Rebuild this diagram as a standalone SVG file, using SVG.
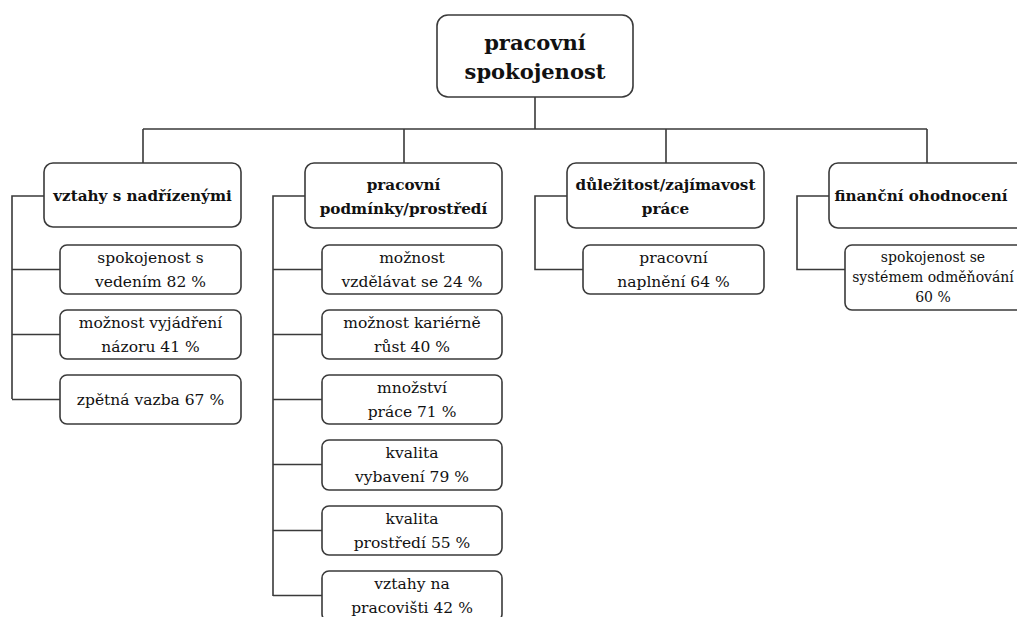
<svg xmlns="http://www.w3.org/2000/svg" width="1017" height="617" viewBox="0 0 1017 617">
  <style>
    .box { fill: #ffffff; stroke: #3a3a3a; stroke-width: 1.6; }
    .line { fill: none; stroke: #3a3a3a; stroke-width: 1.6; }
    text { font-family: 'DejaVu Serif', 'Liberation Serif', serif; fill: #111; text-anchor: middle; }
    .root { font-weight: bold; font-size: 21px; }
    .head { font-weight: bold; font-size: 15.2px; }
    .item { font-size: 15.5px; }
    .small { font-size: 14px; }
  </style>

  <!-- connectors -->
  <g id="connectors">
    <path class="line" d="M535 97 V129 M143 129 H927 M143 129 V163 M404 129 V163 M666 129 V163 M927 129 V163"/>
    <path class="line" d="M44 196 H12 V399 M12 269.5 H60 M12 334.5 H60 M12 399.5 H60"/>
    <path class="line" d="M305 196 H273 V596 M273 269.5 H322 M273 334.5 H322 M273 399.5 H322 M273 464.5 H322 M273 530.5 H322 M273 595.5 H322"/>
    <path class="line" d="M567 196 H535 V269.5 H583"/>
    <path class="line" d="M829 196 H797 V269.5 H845"/>
  </g>

  <!-- root -->
  <g id="root">
    <rect class="box" x="437" y="15" width="196" height="82" rx="11"/>
    <text class="root" x="535" y="50">pracovní</text>
    <text class="root" x="535" y="79">spokojenost</text>
  </g>

  <!-- branch 1 -->
  <g id="vztahy">
    <rect class="box" x="44" y="163" width="197" height="64" rx="9"/>
    <text class="head" x="142.5" y="201">vztahy s nadřízenými</text>
  </g>
  <g id="vedeni">
    <rect class="box" x="60" y="245" width="181" height="49" rx="7"/>
    <text class="item" x="150.5" y="263">spokojenost s</text>
    <text class="item" x="150.5" y="287">vedením 82 %</text>
  </g>
  <g id="nazor">
    <rect class="box" x="60" y="310" width="181" height="49" rx="7"/>
    <text class="item" x="150.5" y="328">možnost vyjádření</text>
    <text class="item" x="150.5" y="352">názoru 41 %</text>
  </g>
  <g id="zpetna">
    <rect class="box" x="60" y="375" width="181" height="49" rx="7"/>
    <text class="item" x="150.5" y="405">zpětná vazba 67 %</text>
  </g>

  <!-- branch 2 -->
  <g id="podminky">
    <rect class="box" x="305" y="163" width="197" height="65" rx="9"/>
    <text class="head" x="403.5" y="190">pracovní</text>
    <text class="head" x="403.5" y="214">podmínky/prostředí</text>
  </g>
  <g id="vzdelavani">
    <rect class="box" x="322" y="245" width="180" height="49" rx="7"/>
    <text class="item" x="412" y="263">možnost</text>
    <text class="item" x="412" y="287">vzdělávat se 24 %</text>
  </g>
  <g id="kariera">
    <rect class="box" x="322" y="310" width="180" height="49" rx="7"/>
    <text class="item" x="412" y="328">možnost kariérně</text>
    <text class="item" x="412" y="352">růst 40 %</text>
  </g>
  <g id="mnozstvi">
    <rect class="box" x="322" y="375" width="180" height="49" rx="7"/>
    <text class="item" x="412" y="393">množství</text>
    <text class="item" x="412" y="417">práce 71 %</text>
  </g>
  <g id="vybaveni">
    <rect class="box" x="322" y="440" width="180" height="50" rx="7"/>
    <text class="item" x="412" y="458">kvalita</text>
    <text class="item" x="412" y="482">vybavení 79 %</text>
  </g>
  <g id="prostredi">
    <rect class="box" x="322" y="506" width="180" height="49" rx="7"/>
    <text class="item" x="412" y="524">kvalita</text>
    <text class="item" x="412" y="548">prostředí 55 %</text>
  </g>
  <g id="pracoviste">
    <rect class="box" x="322" y="571" width="180" height="50" rx="7"/>
    <text class="item" x="412" y="589">vztahy na</text>
    <text class="item" x="412" y="613">pracovišti 42 %</text>
  </g>

  <!-- branch 3 -->
  <g id="dulezitost">
    <rect class="box" x="567" y="163" width="197" height="65" rx="9"/>
    <text class="head" x="665.5" y="190">důležitost/zajímavost</text>
    <text class="head" x="665.5" y="214">práce</text>
  </g>
  <g id="naplneni">
    <rect class="box" x="583" y="245" width="181" height="49" rx="7"/>
    <text class="item" x="673.5" y="263">pracovní</text>
    <text class="item" x="673.5" y="287">naplnění 64 %</text>
  </g>

  <!-- branch 4 -->
  <g id="financni">
    <rect class="box" x="829" y="163" width="197" height="65" rx="9"/>
    <text class="head" x="921" y="201">finanční ohodnocení</text>
  </g>
  <g id="odmenovani">
    <rect class="box" x="845" y="245" width="181" height="65" rx="7"/>
    <text class="item small" x="933" y="262">spokojenost se</text>
    <text class="item small" x="933" y="282">systémem odměňování</text>
    <text class="item small" x="933" y="302">60 %</text>
  </g>
</svg>
